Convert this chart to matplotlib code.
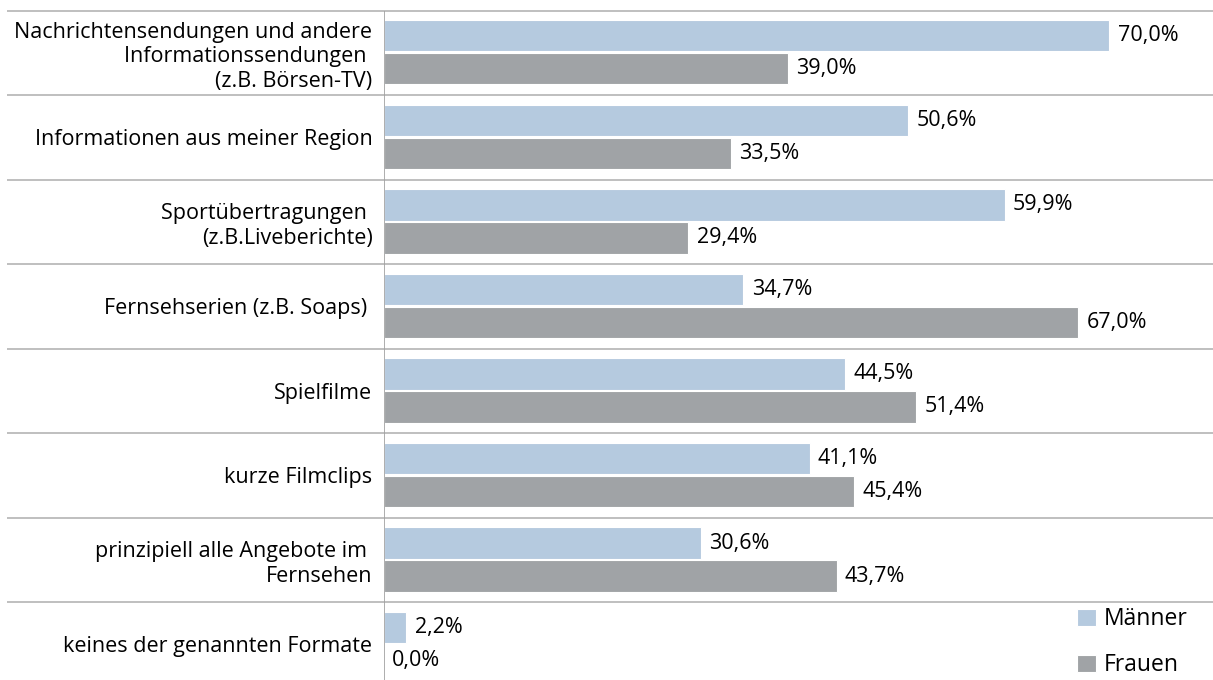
import matplotlib
matplotlib.use('Agg')
import matplotlib.pyplot as plt
import numpy as np

plt.rcParams['font.family'] = ['Open Sans', 'DejaVu Sans']

# Daten
kategorien = [
    'Nachrichtensendungen und andere\nInformationssendungen \n(z.B. Börsen-TV)',
    'Informationen aus meiner Region',
    'Sportübertragungen \n(z.B.Liveberichte)',
    'Fernsehserien (z.B. Soaps) ',
    'Spielfilme',
    'kurze Filmclips',
    'prinzipiell alle Angebote im \nFernsehen',
    'keines der genannten Formate',
]
maenner = [70.0, 50.6, 59.9, 34.7, 44.5, 41.1, 30.6, 2.2]
frauen = [39.0, 33.5, 29.4, 67.0, 51.4, 45.4, 43.7, 0.0]

col_m = '#b5cadf'
col_f = '#a0a3a6'

fig = plt.figure(figsize=(12.13, 6.8), dpi=100)
ax = fig.add_axes([383.5 / 1213, 0, 1 - 383.5 / 1213, 1 - 10.5 / 680])

n = len(kategorien)
pos = np.arange(n)
h = 0.37
bm = ax.barh(pos + 0.30, maenner, height=h, color=col_m, edgecolor='white', linewidth=0.8, label='Männer')
bf = ax.barh(pos + 0.69, frauen, height=h, color=col_f, edgecolor='white', linewidth=0.8, label='Frauen')

# Werte
for y, v in zip(pos + 0.30, maenner):
    ax.text(v + 0.8, y, f'{v:.1f}%'.replace('.', ','), va='center', ha='left', fontsize=15.5)
for y, v in zip(pos + 0.69, frauen):
    ax.text(v + 0.8, y, f'{v:.1f}%'.replace('.', ','), va='center', ha='left', fontsize=15.5)

# Trennlinien
ax.hlines(pos, -0.454, 1, transform=ax.get_yaxis_transform(), color='#b4b4b4', linewidth=1.2, clip_on=False)
ax.axvline(0, color='#a0a0a0', linewidth=1.2)

ax.set_xlim(0, 80)
ax.set_ylim(7.92, 0)
ax.set_yticks(pos + 0.5)
ax.set_yticklabels(kategorien, fontsize=15.5, linespacing=1.2)
ax.tick_params(axis='y', length=0, pad=8)
ax.set_xticks([])
for s in ax.spines.values():
    s.set_visible(False)

fig.legend(handles=[bm, bf], labels=['Männer', 'Frauen'], loc='lower left',
           bbox_to_anchor=(1062 / 1213, -12 / 680), frameon=False, fontsize=16.5,
           handlelength=0.85, handleheight=0.75, handletextpad=0.3, labelspacing=0.95,
           borderpad=0.15)

fig.savefig('out.png', dpi=100)
